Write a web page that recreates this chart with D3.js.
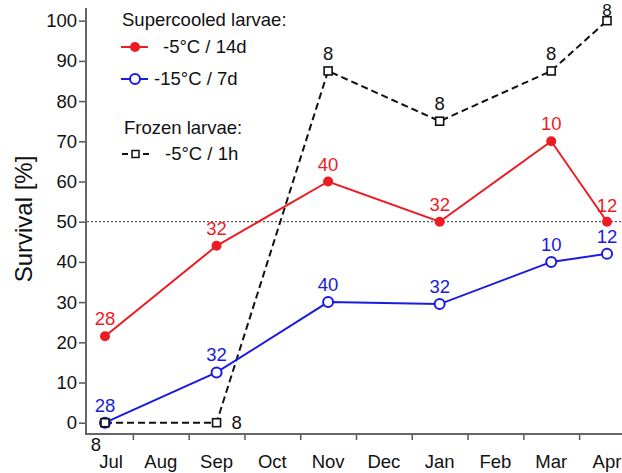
<!DOCTYPE html>
<html><head><meta charset="utf-8">
<script src="https://cdn.jsdelivr.net/npm/d3@7"></script>
<style>
body{margin:0;background:#fff;}
svg text{font-family:"Liberation Sans",Arial,sans-serif;}
</style></head>
<body><svg id="c" width="622" height="473"></svg>
<script>
const months = ["Jul","Aug","Sep","Oct","Nov","Dec","Jan","Feb","Mar","Apr"];
const sampleMonths = ["Jul","Sep","Nov","Jan","Mar","Apr"];
const super5 = [21.5, 44, 60, 50, 70, 50];
const super5N = [28, 32, 40, 32, 10, 12];
const super15 = [0, 12.5, 30, 29.5, 40, 42];
const super15N = [28, 32, 40, 32, 10, 12];
const frozen5 = [0, 0, 87.5, 75, 87.5, 100];
const frozen5N = [8, 8, 8, 8, 8, 8];
const yTicks = [0,10,20,30,40,50,60,70,80,90,100];

const FS = 18.5;
const RED = "#ec1c24", BLUE = "#1a1ae0", BLACK = "#111";
const svg = d3.select("#c");
const x = d3.scaleLinear().domain([0, 9]).range([105, 607]);
const y = d3.scaleLinear().domain([0, 100]).range([422.7, 20.7]);
const mi = m => months.indexOf(m);

// y axis
const yAxis = d3.axisLeft(y).tickValues(yTicks).tickSize(7).tickSizeOuter(0).tickPadding(2);
const gy = svg.append("g").attr("transform","translate(86,0)").call(yAxis);
gy.select(".domain").remove();
gy.selectAll(".tick line").attr("stroke","#555").attr("stroke-width",1.5);
gy.selectAll(".tick text").attr("font-size",FS).attr("fill","#111").attr("font-family","Liberation Sans, Arial, sans-serif");
svg.append("line").attr("x1",86).attr("x2",86).attr("y1",8).attr("y2",435).attr("stroke","#666").attr("stroke-width",2);

// x axis: tick marks at month boundaries, labels at month centres
const xAxisTicks = d3.axisBottom(x).tickValues(d3.range(0.5, 9, 1)).tickSize(6).tickFormat("");
const gx = svg.append("g").attr("transform","translate(0,434)").call(xAxisTicks);
gx.select(".domain").remove();
gx.selectAll(".tick line").attr("stroke","#555").attr("stroke-width",1.5);
svg.append("line").attr("x1",85).attr("x2",622).attr("y1",434).attr("y2",434).attr("stroke","#666").attr("stroke-width",2);
svg.append("g").selectAll("text").data(months).join("text")
  .attr("x",(d,i)=>x(i)+ (i===0?6:0)).attr("y",468).attr("text-anchor","middle")
  .attr("font-size",FS).attr("fill","#111").text(d=>d);

// y title
svg.append("text").attr("transform","translate(32,219) rotate(-90)").attr("text-anchor","middle")
  .attr("font-size",24).attr("fill","#111").text("Survival [%]");

// 50% reference line
svg.append("line").attr("x1",87).attr("x2",622).attr("y1",y(50)).attr("y2",y(50))
  .attr("stroke","#333").attr("stroke-width",1).attr("stroke-dasharray","2,2");

const line = d3.line().x(d=>x(mi(d.m))).y(d=>y(d.v));
function series(vals){ return sampleMonths.map((m,i)=>({m, v: vals[i]})); }

// frozen
const fz = series(frozen5);
svg.append("path").datum(fz).attr("d",line).attr("fill","none").attr("stroke",BLACK)
  .attr("stroke-width",2).attr("stroke-dasharray","7,4");
// red
const r5 = series(super5);
svg.append("path").datum(r5).attr("d",line).attr("fill","none").attr("stroke",RED).attr("stroke-width",2);
// blue
const b15 = series(super15);
svg.append("path").datum(b15).attr("d",line).attr("fill","none").attr("stroke",BLUE).attr("stroke-width",2);

svg.append("g").selectAll("circle").data(r5).join("circle")
  .attr("cx",d=>x(mi(d.m))).attr("cy",d=>y(d.v)).attr("r",5).attr("fill",RED);
svg.append("g").selectAll("circle").data(b15).join("circle")
  .attr("cx",d=>x(mi(d.m))).attr("cy",d=>y(d.v)).attr("r",5).attr("fill","#fff")
  .attr("stroke",BLUE).attr("stroke-width",2);
svg.append("g").selectAll("rect").data(fz).join("rect")
  .attr("x",d=>x(mi(d.m))-4).attr("y",d=>y(d.v)-4).attr("width",8).attr("height",8)
  .attr("fill","#fff").attr("stroke",BLACK).attr("stroke-width",1.6);

// n labels
function labels(data, ns, color, offs, sizes){
  svg.append("g").selectAll("text").data(data).join("text")
    .attr("x",(d,i)=>x(mi(d.m)) + (offs[i]?offs[i][0]:0))
    .attr("y",(d,i)=>y(d.v) + (offs[i]?offs[i][1]:-11))
    .attr("text-anchor","middle").attr("font-size",(d,i)=>(sizes&&sizes[i])||FS).attr("fill",color)
    .text((d,i)=>ns[i]);
}
labels(r5, super5N, RED, [null,null,null,null,null,[0,-10]]);
labels(b15, super15N, BLUE, [null,null,null,null,null,null]);
labels(fz, frozen5N, BLACK, [[-9,28],[20,6],null,null,null,[0,-4.5]], [0,0,0,0,0,17]);

// legend
const lg = svg.append("g");
lg.append("text").attr("x",122).attr("y",26).attr("font-size",FS).attr("fill","#111").text("Supercooled larvae:");
lg.append("line").attr("x1",121).attr("x2",148).attr("y1",47).attr("y2",47).attr("stroke",RED).attr("stroke-width",2);
lg.append("circle").attr("cx",135).attr("cy",47).attr("r",5).attr("fill",RED);
lg.append("text").attr("x",163).attr("y",53).attr("font-size",FS).attr("fill","#111").text("-5°C / 14d");
lg.append("line").attr("x1",121).attr("x2",148).attr("y1",79).attr("y2",79).attr("stroke",BLUE).attr("stroke-width",2);
lg.append("circle").attr("cx",135).attr("cy",79).attr("r",5).attr("fill","#fff").attr("stroke",BLUE).attr("stroke-width",2);
lg.append("text").attr("x",154).attr("y",85).attr("font-size",FS).attr("fill","#111").text("-15°C / 7d");
lg.append("text").attr("x",124).attr("y",134).attr("font-size",FS).attr("fill","#111").text("Frozen larvae:");
lg.append("line").attr("x1",122).attr("x2",149).attr("y1",154).attr("y2",154).attr("stroke",BLACK).attr("stroke-width",2).attr("stroke-dasharray","6,15");
lg.append("rect").attr("x",132).attr("y",150.5).attr("width",7).attr("height",7).attr("fill","#fff").attr("stroke",BLACK).attr("stroke-width",1.5);
lg.append("text").attr("x",165).attr("y",160).attr("font-size",FS).attr("fill","#111").text("-5°C / 1h");
</script></body></html>
